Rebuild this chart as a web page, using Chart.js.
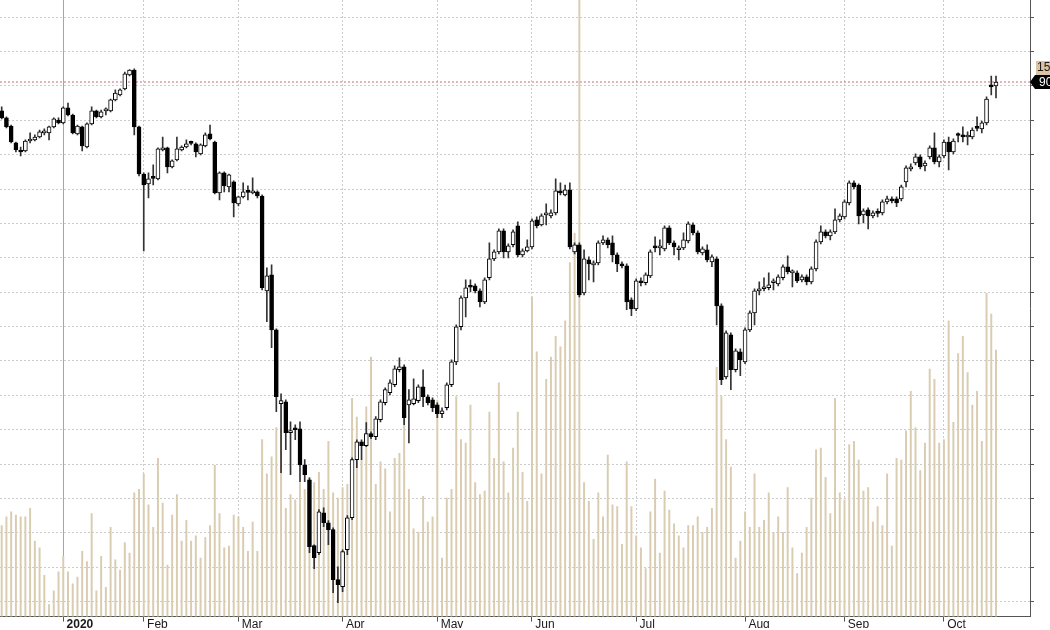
<!DOCTYPE html>
<html>
<head>
<meta charset="utf-8">
<script src="https://cdn.jsdelivr.net/npm/chart.js@4.4.1/dist/chart.umd.min.js"></script>
<style>
  html, body { margin: 0; padding: 0; background: #fff; overflow: hidden; }
</style>
</head>
<body>
<canvas id="myChart" width="1050" height="630"></canvas>
<script>
// month start positions (trading day index) and their labels
const monthTicks = [13, 30, 50, 72, 92, 112, 134, 157, 178, 199];
const monthLabels = ['2020', 'Feb', 'Mar', 'Apr', 'May', 'Jun', 'Jul', 'Aug', 'Sep', 'Oct'];
const priceTicks = [60, 62, 64, 66, 68, 70, 72, 74, 76, 78, 80, 82, 84, 86, 88, 90, 92, 94];

const opens = [88.55,88.14,87.67,86.69,86.22,86.22,86.80,86.86,87.03,87.27,87.27,87.62,88.02,87.85,88.72,88.31,87.21,87.62,86.45,87.79,
  88.55,88.20,88.55,88.55,89.19,89.48,89.83,90.64,90.93,87.62,84.88,84.30,84.65,84.59,86.28,86.40,85.29,85.70,86.28,86.45,
  86.69,86.63,86.05,86.51,87.21,86.74,83.78,84.94,84.13,84.42,83.14,83.55,83.84,83.78,83.84,83.60,78.08,79.01,75.81,71.51,
  71.63,69.83,70.06,70.06,67.96,67.09,63.26,62.85,65.17,64.59,64.19,61.28,60.87,63.02,64.88,68.26,69.30,69.07,69.77,69.59,
  70.58,71.57,72.15,72.62,73.49,73.66,71.45,71.51,71.69,72.50,71.92,71.74,71.45,70.93,71.28,72.62,73.95,75.99,77.67,78.31,
  78.37,78.08,77.44,78.84,79.94,80.35,81.57,80.35,80.76,81.86,80.17,80.41,80.64,82.21,81.92,82.50,82.44,82.62,83.90,83.66,
  83.95,80.35,80.76,77.96,79.88,79.59,79.71,80.87,81.05,80.87,80.17,79.65,79.53,77.56,77.03,78.66,78.55,78.95,80.64,80.58,
  80.52,81.74,80.87,80.47,80.58,80.99,81.92,81.45,80.29,80.47,79.77,79.94,77.21,73.08,75.52,73.49,74.53,73.95,75.81,76.80,
  78.08,78.20,78.26,78.55,78.49,78.84,79.48,79.13,79.13,78.72,78.90,78.60,79.36,80.93,81.51,81.28,81.51,82.21,82.38,83.20,
  84.36,84.24,82.50,82.79,82.44,82.62,82.62,83.26,83.43,83.43,83.43,84.42,85.17,85.52,85.87,85.35,85.87,86.40,85.58,85.93,
  86.74,86.16,87.15,87.15,87.03,87.03,87.56,87.50,87.85,90.06,90.00];
const highs = [88.78,88.20,87.73,86.74,86.45,86.86,87.27,87.15,87.44,87.50,87.67,88.14,88.14,88.78,89.01,88.37,87.73,87.67,87.85,88.78,
  88.60,88.60,88.72,89.24,89.77,89.83,90.81,90.95,90.99,87.67,84.94,84.94,85.41,86.40,87.03,86.45,85.70,87.03,86.51,86.86,
  86.80,86.69,86.63,87.27,87.73,86.80,85.00,85.00,84.88,84.48,83.60,84.36,84.19,84.65,83.90,83.66,79.42,79.59,75.87,72.09,
  71.74,70.46,70.29,70.46,68.26,67.21,63.31,65.35,65.46,64.71,64.30,62.03,63.02,65.00,68.37,69.42,69.42,70.41,69.88,70.76,
  71.74,72.44,72.91,73.72,74.19,73.78,72.33,72.96,72.62,73.49,72.03,71.86,71.57,71.28,72.73,74.07,76.10,77.79,78.72,78.72,
  78.49,78.20,78.84,80.87,80.47,81.69,81.69,80.81,81.63,82.09,80.52,81.05,82.27,82.38,82.56,83.14,82.79,84.59,84.36,84.24,
  84.36,80.87,80.87,80.47,80.06,79.83,80.99,81.28,81.16,81.28,80.29,79.77,79.65,77.67,78.78,78.84,79.13,80.47,81.22,81.05,
  81.86,81.86,80.99,80.70,81.45,82.09,82.03,81.57,80.64,80.76,80.17,80.06,77.33,75.76,75.64,74.71,74.71,75.93,76.92,78.20,
  78.60,78.84,79.13,78.78,79.01,79.59,80.12,79.30,79.24,79.01,79.01,79.48,81.05,81.86,81.63,81.63,82.85,82.56,83.37,84.48,
  84.48,84.30,82.85,82.91,82.73,82.85,83.37,83.60,83.55,83.55,84.24,85.35,85.47,86.05,85.99,85.64,86.51,87.27,85.99,86.86,
  87.03,86.92,87.27,87.62,87.33,87.56,88.20,87.96,89.36,90.58,90.58];
const lows = [88.08,87.56,86.69,86.16,85.93,86.16,86.69,86.80,86.98,87.15,86.86,87.56,87.79,87.79,88.26,87.21,87.15,86.22,86.40,87.73,
  88.14,88.14,88.31,88.49,89.13,89.42,89.77,90.58,87.15,84.77,80.41,83.49,84.24,84.53,86.22,84.94,85.23,85.64,86.22,86.40,
  86.57,85.87,85.99,86.45,86.86,83.72,83.37,83.84,83.84,82.38,83.02,83.49,83.37,83.72,83.49,78.14,76.28,74.77,71.05,67.50,
  68.84,67.38,69.42,66.98,66.98,62.85,61.92,62.73,64.36,63.31,60.52,59.94,60.58,62.73,64.77,67.79,68.26,69.01,69.48,69.42,
  70.46,71.45,72.03,72.50,73.37,70.29,69.24,71.45,71.57,71.34,71.45,71.05,70.70,70.70,71.16,72.50,73.78,75.81,76.57,78.02,
  77.96,77.15,77.33,78.72,79.83,80.23,80.00,80.00,80.64,80.06,80.06,80.35,80.52,81.74,81.86,81.92,82.33,82.50,83.66,83.60,
  80.52,80.23,77.73,77.85,78.72,78.60,79.59,80.76,80.58,79.77,79.19,79.42,76.98,76.63,76.92,78.37,78.43,78.84,80.35,80.17,
  80.41,80.76,80.17,79.88,80.47,80.87,81.34,80.23,80.17,79.77,79.48,76.10,72.62,72.96,72.33,73.37,73.14,73.84,75.70,76.10,
  77.85,78.08,78.14,78.14,78.37,78.72,79.07,78.31,78.55,78.60,78.43,78.49,79.24,80.81,81.16,81.05,81.40,82.09,82.27,83.08,
  84.01,81.98,82.03,81.69,82.33,82.38,82.50,83.14,83.20,82.97,83.31,84.13,85.06,85.41,85.17,85.06,85.76,85.47,85.29,85.81,
  85.12,86.05,86.74,86.74,86.57,86.92,87.38,87.27,87.73,89.48,89.30];
const closes = [88.14,87.62,86.74,86.28,86.16,86.80,86.86,87.03,87.33,87.33,87.62,88.08,87.85,88.72,88.31,87.27,87.67,86.51,87.79,88.55,
  88.20,88.49,88.60,89.19,89.59,89.77,90.70,90.93,87.62,84.88,84.24,84.59,84.62,86.34,86.40,85.29,85.64,86.34,86.45,86.63,
  86.66,86.16,86.57,87.15,86.92,83.78,84.94,84.19,84.83,83.20,83.55,83.84,83.81,83.90,83.60,78.26,78.95,75.81,71.92,71.69,
  69.83,69.94,70.00,67.96,67.38,63.20,62.56,65.23,64.59,64.19,61.28,60.99,62.91,64.88,68.26,69.30,69.07,69.77,69.59,70.64,
  71.63,72.33,72.73,73.55,73.66,70.70,71.74,71.80,72.50,71.92,71.57,71.28,70.93,71.10,72.62,73.95,75.99,77.67,78.26,78.29,
  78.08,77.44,78.72,79.94,80.35,81.57,80.35,80.70,81.51,80.17,80.41,80.64,82.15,81.86,82.44,82.53,82.62,83.90,83.78,83.95,
  80.64,80.76,77.85,79.94,79.65,79.71,80.87,81.05,80.76,80.17,79.65,79.53,77.44,77.03,78.66,78.55,79.01,80.35,80.58,80.61,
  81.74,80.87,80.64,80.58,81.05,81.98,81.45,80.35,80.52,79.88,80.06,77.21,72.91,75.64,73.49,74.59,74.07,75.81,76.80,78.08,
  78.20,78.31,78.43,78.58,78.90,79.48,79.19,79.19,78.66,78.90,78.60,79.36,80.93,81.51,81.28,81.51,82.21,82.44,83.26,84.36,
  84.13,82.44,82.73,82.44,82.62,82.59,83.26,83.43,83.31,83.20,84.13,85.23,85.29,85.87,85.29,85.52,86.40,85.58,85.87,86.74,
  86.16,86.80,87.12,87.03,87.06,87.44,87.53,87.85,89.24,89.94,90.23];
// volume, millions
const volumes = [5.3,5.8,6.1,5.9,5.8,5.8,6.3,4.4,4.0,2.4,0.7,1.5,2.6,3.5,2.6,1.9,2.3,3.8,3.2,6.0,
  1.5,3.5,1.7,5.2,3.3,2.7,4.3,3.7,7.2,7.4,8.3,6.5,5.2,9.2,6.6,3.0,5.9,7.1,4.4,5.6,
  4.4,4.7,3.4,4.6,5.3,8.8,6.0,4.0,4.1,5.9,5.8,5.2,3.8,5.5,3.8,10.3,8.3,9.3,11.0,10.9,
  6.3,7.1,6.8,7.8,7.4,8.1,7.8,8.4,7.4,10.2,7.2,6.9,7.5,7.7,12.7,11.6,9.1,12.2,15.1,7.7,
  9.0,8.6,6.1,9.2,9.5,12.9,7.4,5.1,4.9,7.0,5.5,5.8,12.6,3.4,6.9,7.4,12.8,10.3,10.1,12.3,
  7.8,7.1,7.3,11.9,9.2,13.6,9.0,7.2,9.8,11.9,8.4,6.7,18.6,15.4,8.3,13.8,15.1,16.3,15.7,17.2,
  20.6,22.3,40.0,7.8,6.7,4.5,7.2,5.8,9.4,6.5,6.4,4.2,9.0,6.4,4.7,4.0,2.8,6.1,8.0,3.7,
  7.3,6.2,5.4,4.7,4.0,5.3,5.3,5.8,4.9,5.2,6.3,14.5,12.8,10.3,8.7,3.4,4.4,6.1,5.2,8.3,
  5.2,5.6,7.2,4.9,5.8,4.9,7.5,4.0,2.5,3.7,5.2,6.9,9.7,9.8,8.1,6.0,12.7,7.2,6.8,10.0,
  10.2,9.1,7.3,7.5,5.5,6.4,5.3,8.3,4.1,9.2,9.1,10.8,13.1,11.0,8.5,10.1,14.4,13.8,10.1,10.3,
  17.2,11.3,15.3,16.3,14.2,12.3,13.1,10.2,18.8,17.6,15.5];

Chart.defaults.font.family = "'Liberation Sans', Arial, sans-serif";

const days = opens.map((_, i) => i);
const isUp = i => closes[i] >= opens[i];
const yearTick = monthTicks[0];

const lastPrice = {
  id: 'lastPrice',
  beforeDatasetsDraw(chart) {
    const {ctx, chartArea, scales} = chart;
    const py = scales.y.getPixelForValue(closes[closes.length - 1]);
    ctx.save();
    ctx.strokeStyle = '#cf6a78';
    ctx.lineWidth = 1;
    ctx.setLineDash([2, 2]);
    ctx.beginPath();
    ctx.moveTo(chartArea.left, py);
    ctx.lineTo(chartArea.right, py);
    ctx.stroke();
    ctx.restore();
  },
  afterDraw(chart) {
    const {ctx, chartArea, scales} = chart;
    const py = Math.round(scales.y.getPixelForValue(closes[closes.length - 1]));
    const x0 = chartArea.right;
    ctx.save();
    ctx.font = "12px 'Liberation Sans', Arial, sans-serif";
    ctx.textBaseline = 'middle';
    // volume tag
    ctx.fillStyle = '#dcc4a2';
    ctx.fillRect(x0 + 6, py - 21, 60, 14);
    ctx.fillStyle = '#1a1a1a';
    ctx.fillText(volumes[volumes.length - 1].toFixed(2) + 'M', x0 + 7, py - 14);
    // price tag
    ctx.fillStyle = '#000';
    ctx.beginPath();
    ctx.moveTo(x0, py);
    ctx.lineTo(x0 + 5, py - 7);
    ctx.lineTo(x0 + 70, py - 7);
    ctx.lineTo(x0 + 70, py + 7);
    ctx.lineTo(x0 + 5, py + 7);
    ctx.closePath();
    ctx.fill();
    ctx.fillStyle = '#fff';
    ctx.fillText(closes[closes.length - 1].toFixed(2), x0 + 9, py + 0.5);
    ctx.restore();
  }
};

new Chart(document.getElementById('myChart'), {
  type: 'bar',
  data: {
    datasets: [
      {
        label: 'Body',
        data: days.map(i => ({x: i, y: [opens[i], closes[i]]})),
        yAxisID: 'y',
        grouped: false,
        order: 1,
        barThickness: 4,
        minBarLength: 2,
        borderWidth: 1,
        borderColor: '#000',
        borderSkipped: false,
        backgroundColor: c => isUp(c.dataIndex) ? '#fff' : '#000'
      },
      {
        label: 'Wick',
        data: days.map(i => ({x: i, y: [lows[i], highs[i]]})),
        yAxisID: 'y',
        grouped: false,
        order: 2,
        barThickness: 1,
        backgroundColor: '#333'
      },
      {
        label: 'Volume',
        data: days.map(i => ({x: i, y: volumes[i]})),
        yAxisID: 'vol',
        grouped: false,
        order: 3,
        barThickness: 1.3,
        backgroundColor: '#d9ccb0'
      }
    ]
  },
  options: {
    responsive: false,
    animation: false,
    layout: { padding: { left: 0, right: 16, top: 0, bottom: 2 } },
    plugins: { legend: { display: false }, tooltip: { enabled: false } },
    scales: {
      x: {
        type: 'linear',
        offset: false,
        min: -0.36,
        max: 217.18,
        afterBuildTicks: s => { s.ticks = monthTicks.map(v => ({value: v})); },
        ticks: {
          autoSkip: false,
          maxRotation: 0,
          align: 'start',
          padding: -4,
          color: '#1a1a1a',
          font: c => ({ size: 12, weight: (c.tick && c.tick.value === yearTick) ? 'bold' : 'normal' }),
          callback: v => ' ' + monthLabels[monthTicks.indexOf(v)]
        },
        grid: {
          offset: false,
          color: c => (c.tick && c.tick.value === yearTick) ? '#a6a6a6' : '#cbcbcb',
          tickLength: 5,
          tickColor: '#555'
        },
        border: {
          color: '#555',
          dash: c => (c.tick && c.tick.value === yearTick) ? [] : [2, 2]
        }
      },
      y: {
        position: 'right',
        min: 59.13,
        max: 95,
        afterBuildTicks: s => { s.ticks = priceTicks.map(v => ({value: v})); },
        ticks: { display: false },
        grid: { color: '#cbcbcb', tickLength: 4, tickColor: '#555' },
        border: { color: '#555', dash: [2, 2] }
      },
      vol: {
        display: false,
        min: 0,
        max: 35.87
      }
    }
  },
  plugins: [lastPrice]
});
</script>
</body>
</html>
